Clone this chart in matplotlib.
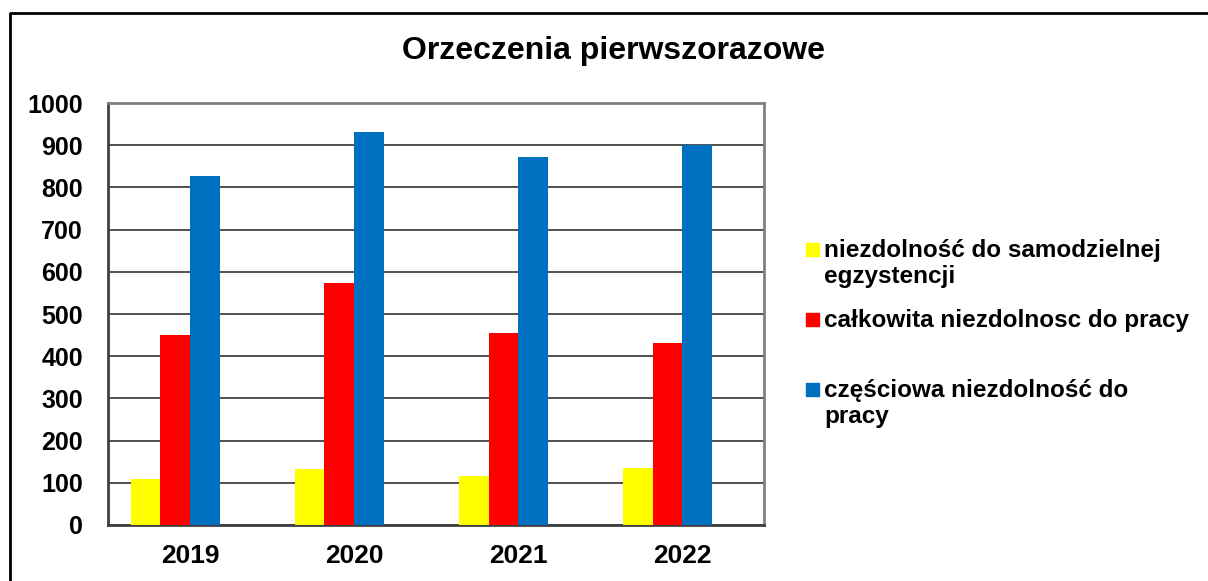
import matplotlib
matplotlib.use("Agg")
import matplotlib.pyplot as plt
from matplotlib.lines import Line2D
from matplotlib.patches import Rectangle
import numpy as np

plt.rcParams['font.family'] = ['Liberation Sans', 'DejaVu Sans']
plt.rcParams['font.weight'] = 'bold'

# data
years = ['2019', '2020', '2021', '2022']
series_names = ['niezdolność do samodzielnej\negzystencji',
                'całkowita niezdolnosc do pracy',
                'częściowa niezdolność do\npracy']
samodzielna = [108, 133, 115, 136]
calkowita = [450, 573, 455, 431]
czesciowa = [827, 931, 872, 900]
colors = ['#FFFF00', '#FF0000', '#0070C0']
y_ticks = [0, 100, 200, 300, 400, 500, 600, 700, 800, 900, 1000]

fig = plt.figure(figsize=(12.08, 5.81), dpi=100)
ax = fig.add_axes([0.0894, 0.0964, 0.5431, 0.7263])

x = np.arange(len(years))
w = 0.18
offsets = [-1.5, -0.5, 0.5]
for vals, off, col in zip([samodzielna, calkowita, czesciowa], offsets, colors):
    ax.bar(x + off * w, vals, width=w, color=col, zorder=3)

ax.set_xlim(-0.5, 3.5)
ax.set_ylim(0, 1000)
ax.set_yticks(y_ticks)
ax.set_xticks(x)
ax.set_xticklabels(years)
ax.tick_params(axis='y', length=0, pad=18, labelsize=18)
ax.tick_params(axis='x', length=0, pad=14, labelsize=19)
for lab in ax.get_xticklabels() + ax.get_yticklabels():
    lab.set_fontweight('bold')
ax.yaxis.grid(True, color='#202020', linewidth=1.1, zorder=0)

for side in ['top', 'right']:
    ax.spines[side].set_color('#808080')
    ax.spines[side].set_linewidth(2)
for side in ['left', 'bottom']:
    ax.spines[side].set_color('#404040')
    ax.spines[side].set_linewidth(2)

fig.text(0.508, 0.913, 'Orzeczenia pierwszorazowe', ha='center', va='center',
         fontsize=23, fontweight='bold')

# legend drawn by hand so that markers sit on the first line
leg_y = [250, 320, 390]
for name, col, yy in zip(series_names, colors, leg_y):
    fy = 1 - yy / 581
    fig.add_artist(Rectangle((806 / 1208, fy - 6 / 581), 13 / 1208, 13 / 581,
                             transform=fig.transFigure, color=col))
    fig.text(824 / 1208, fy + 11 / 581, name, ha='left', va='top', fontsize=17.5,
             fontweight='bold', linespacing=1.15)

# outer chart frame (left and top visible)
fig.add_artist(Line2D([10 / 1208, 10 / 1208, 1.0], [0.0, 1 - 13 / 581, 1 - 13 / 581],
                      transform=fig.transFigure, color='black', linewidth=2))

fig.savefig('out.png', dpi=100)
